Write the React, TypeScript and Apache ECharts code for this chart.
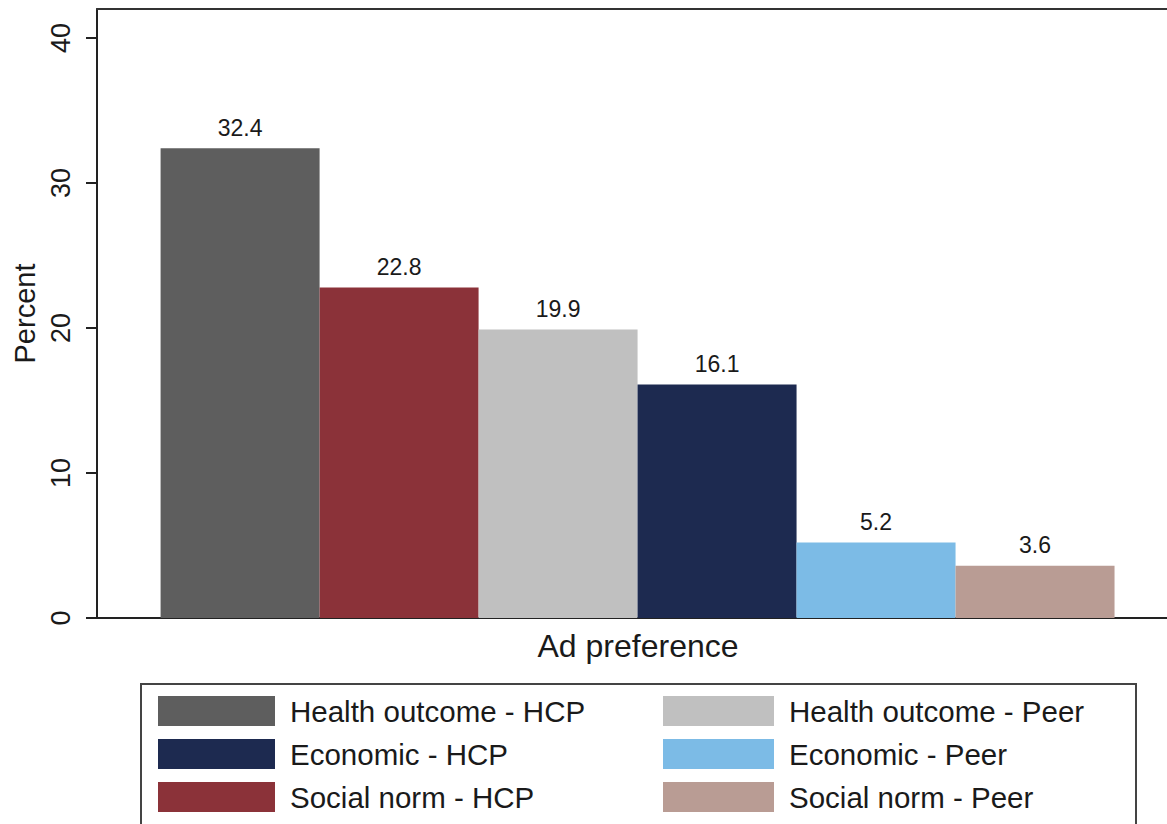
import React, { useEffect, useRef } from "react";
import * as echarts from "echarts";

const categories = [
  "Health outcome - HCP",
  "Social norm - HCP",
  "Health outcome - Peer",
  "Economic - HCP",
  "Economic - Peer",
  "Social norm - Peer",
];
const values = [32.4, 22.8, 19.9, 16.1, 5.2, 3.6];
const colors = ["#5e5e5e", "#8b3239", "#c0c0c0", "#1d2a50", "#7cbbe6", "#b99c94"];
const yTicks = [0, 10, 20, 30, 40];
const legendLeft = ["Health outcome - HCP", "Economic - HCP", "Social norm - HCP"];
const legendRight = ["Health outcome - Peer", "Economic - Peer", "Social norm - Peer"];

const FONT = "'Liberation Sans', Arial, Helvetica, sans-serif";
const TXT = "#1a1a1a";
const X_MIN = 0.1;
const X_MAX = 6.83;

export default function App() {
  const ref = useRef<HTMLDivElement>(null);
  useEffect(() => {
    if (!ref.current) return;
    const chart = echarts.init(ref.current, null, { renderer: "svg" });
    const legendCommon = {
      orient: "vertical",
      itemHeight: 30,
      itemGap: 13,
      icon: "rect",
      selectedMode: false,
      textStyle: {
        fontFamily: FONT,
        fontSize: 29.5,
        color: TXT,
        lineHeight: 30,
        padding: [0, 0, 0, 10],
      },
    };
    chart.setOption({
      animation: false,
      backgroundColor: "#ffffff",
      textStyle: { fontFamily: FONT },
      grid: { left: 97, right: 0, top: 9, bottom: 206, containLabel: false },
      legend: [
        { ...legendCommon, left: 153, top: 691, itemWidth: 117, data: legendLeft },
        { ...legendCommon, left: 658, top: 691, itemWidth: 111, data: legendRight },
      ],
      graphic: [
        {
          type: "rect",
          shape: { x: 141, y: 684, width: 995, height: 200 },
          style: { fill: "none", stroke: "#444", lineWidth: 2 },
          silent: true,
        },
      ],
      xAxis: [
        {
          type: "value",
          min: X_MIN,
          max: X_MAX,
          name: "Ad preference",
          nameLocation: "middle",
          nameGap: 12,
          nameTextStyle: {
            fontFamily: FONT,
            fontSize: 32,
            color: TXT,
            padding: [0, 0, 0, 12],
          },
          axisLine: { show: true, lineStyle: { color: "#222", width: 2 } },
          axisTick: { show: false },
          axisLabel: { show: false },
          splitLine: { show: false },
        },
        {
          type: "value",
          position: "top",
          min: X_MIN,
          max: X_MAX,
          axisLine: { show: true, lineStyle: { color: "#333", width: 2 } },
          axisTick: { show: false },
          axisLabel: { show: false },
          splitLine: { show: false },
        },
      ],
      yAxis: {
        type: "value",
        min: 0,
        max: 42,
        interval: 10,
        name: "Percent",
        nameLocation: "middle",
        nameRotate: 90,
        nameGap: 56,
        nameTextStyle: { fontFamily: FONT, fontSize: 29, color: TXT },
        axisLine: { show: true, lineStyle: { color: "#222", width: 2 } },
        axisTick: {
          show: true,
          length: 11,
          inside: false,
          lineStyle: { color: "#222", width: 2 },
          customValues: yTicks,
        },
        axisLabel: {
          rotate: 90,
          margin: 23,
          fontSize: 27,
          color: TXT,
          fontFamily: FONT,
          customValues: yTicks,
        },
        splitLine: { show: false },
      },
      series: categories.map((name, i) => ({
        type: "bar",
        name,
        xAxisIndex: 0,
        data: [[i + 1, values[i]]],
        barWidth: 159,
        barGap: "-100%",
        itemStyle: { color: colors[i] },
        label: {
          show: true,
          position: "top",
          distance: 9,
          fontSize: 23,
          fontFamily: FONT,
          color: TXT,
          formatter: (p: any) => Number(p.value[1]).toFixed(1),
        },
      })),
    });
    return () => chart.dispose();
  }, []);
  return (
    <div
      ref={ref}
      style={{ position: "fixed", left: 0, top: 0, width: 1167, height: 824 }}
    />
  );
}
